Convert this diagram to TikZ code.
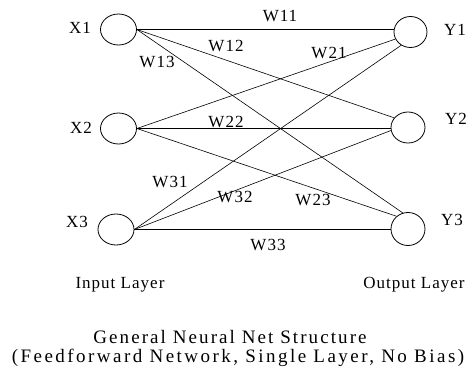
\documentclass[tikz,border=0pt]{standalone}
\usepackage{fontspec}
\setmainfont{Liberation Serif}
\newfontfamily\lblfont[LetterSpace=6]{Liberation Serif}
\newfontfamily\ttlfont[LetterSpace=11]{Liberation Serif}
\newfontfamily\subfont[LetterSpace=13]{Liberation Serif}
\usetikzlibrary{shapes.geometric}
\begin{document}
\begin{tikzpicture}[x=1pt,y=-1pt,
  neuron/.style={draw, ellipse, line width=0.8pt, inner sep=0pt, minimum width=36pt, minimum height=31pt},
  wire/.style={line width=0.6pt},
  hwire/.style={line width=0.9pt},
  lbl/.style={inner sep=0pt, font=\lblfont\fontsize{17}{20}\selectfont},
  ttl/.style={inner sep=0pt, anchor=base, font=\ttlfont\fontsize{19}{22}\selectfont},
  subttl/.style={inner sep=0pt, anchor=base, font=\subfont\fontsize{19}{22}\selectfont}]
\useasboundingbox[fill=white] (0,0) rectangle (472,375);
% neurons
\node[neuron] (X1) at (118.5,29.5) {};
\node[neuron] (X2) at (118.5,128.5) {};
\node[neuron] (X3) at (116,229.5) {};
\node[neuron, minimum width=33pt] (Y1) at (410.5,32) {};
\node[neuron, minimum width=34pt] (Y2) at (408,127.5) {};
\node[neuron, minimum width=34pt, minimum height=33pt] (Y3) at (408,229) {};
% neuron labels
\node[lbl] (lx1) at (80,28) {X1};
\node[lbl] (lx2) at (81,128) {X2};
\node[lbl] (lx3) at (77,222) {X3};
\node[lbl] (ly1) at (455,30) {Y1};
\node[lbl] (ly2) at (456,119) {Y2};
\node[lbl] (ly3) at (452,220) {Y3};
% connections
\draw[hwire] (X1.east) -- (Y1.west |- X1.east);
\draw[wire] (X1.east) -- (Y2.145);
\draw[wire] (X1.east) -- (Y3.108);
\draw[wire] (X2.east) -- (Y1.205);
\draw[hwire] (X2.east) -- (Y2.west |- X2.east);
\draw[wire] (X2.east) -- (Y3.132);
\draw[wire] (X3.east) -- (Y1.235);
\draw[wire] (X3.east) -- (Y2.190);
\draw[hwire] (X3.east) -- (Y3.west |- X3.east);
% weight labels
\node[lbl] (w11) at (280,16) {W11};
\node[lbl] (w12) at (226,46) {W12};
\node[lbl] (w13) at (157,62) {W13};
\node[lbl] (w21) at (329,53) {W21};
\node[lbl] (w22) at (226,122) {W22};
\node[lbl] (w31) at (170,182) {W31};
\node[lbl] (w32) at (235,197) {W32};
\node[lbl] (w23) at (313,200) {W23};
\node[lbl] (w33) at (268,245) {W33};
% layer labels
\node[lbl, anchor=base] (inl) at (120,288.5) {Input Layer};
\node[lbl, anchor=base] (outl) at (414,288.5) {Output Layer};
% title
\node[ttl] (t1) at (230,343) {General Neural Net Structure};
\node[subttl] (t2) at (238,362) {(Feedforward Network, Single Layer, No Bias)};
\end{tikzpicture}
\end{document}
